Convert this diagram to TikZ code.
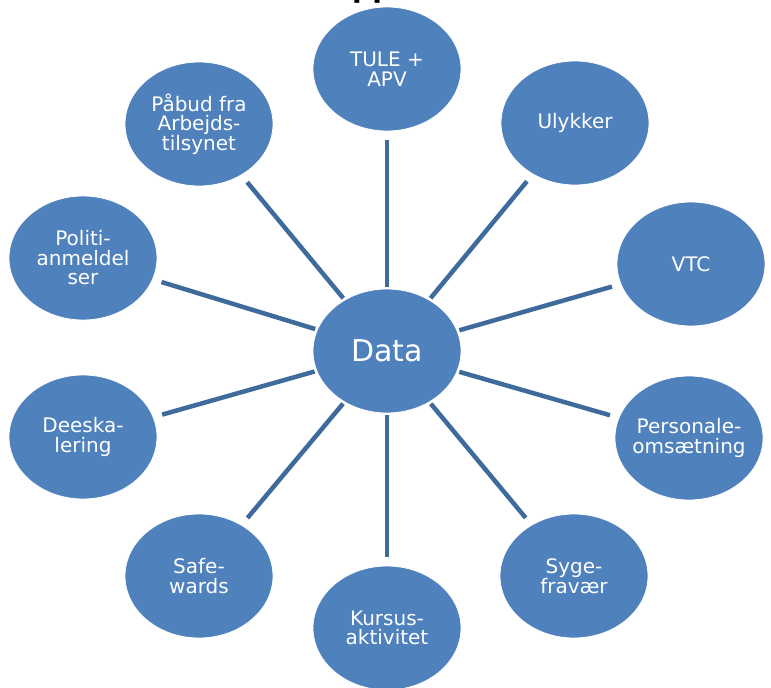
\documentclass[tikz,border=0pt]{standalone}
\usepackage{fontspec}
\setmainfont{DejaVu Sans}
\newfontfamily\boldtitlefont{DejaVu Sans Bold}
\usetikzlibrary{shapes.geometric}
\definecolor{ellfill}{HTML}{4F81BD}
\definecolor{connblue}{HTML}{3F6A9C}
\tikzset{
  ell/.style={ellipse, fill=ellfill, draw=white, line width=0.8pt, minimum width=148pt, minimum height=124pt, inner sep=0pt},
  txt/.style={text=white, align=center, inner sep=0pt, font=\fontsize{20}{19.5}\selectfont},
  conn/.style={draw=connblue, line width=4.5pt, shorten >=9pt, shorten <=2pt}
}
\begin{document}
\begin{tikzpicture}[x=1pt, y=-1pt]
\useasboundingbox (0,0) rectangle (771,688);
\begin{scope}
\clip (0,0) rectangle (771,688);
\node[anchor=base west, inner sep=0pt, font=\boldtitlefont\fontsize{28}{28}\selectfont] (title) at (352,-2) {pp};
\node[ell] (d) at (387,351) {};
\node[ell] (o1) at (387,69) {};
\node[ell] (o2) at (575,123) {};
\node[ell] (o3) at (691,264) {};
\node[ell] (o4) at (689,438) {};
\node[ell] (o5) at (574,576) {};
\node[ell] (o6) at (387,628) {};
\node[ell] (o7) at (199,576) {};
\node[ell] (o8) at (83,437) {};
\node[ell] (o9) at (83,258) {};
\node[ell] (o10) at (199,124) {};
\end{scope}
\foreach \i in {1,...,10} {\draw[conn] (d) -- (o\i);}
\node[txt, font=\fontsize{30}{30}\selectfont] (td) at (d) {Data};
\node[txt] (t1) at (o1) {TULE +\\APV};
\node[txt] (t2) at (o2) {Ulykker};
\node[txt] (t3) at (o3) {VTC};
\node[txt] (t4) at (o4) {Personale-\\omsætning};
\node[txt] (t5) at (o5) {Syge-\\fravær};
\node[txt] (t6) at (o6) {Kursus-\\aktivitet};
\node[txt] (t7) at (o7) {Safe-\\wards};
\node[txt] (t8) at (o8) {Deeska-\\lering};
\node[txt] (t9) at (o9) {Politi-\\anmeldel\\ser};
\node[txt] (t10) at (o10) {Påbud fra\\Arbejds-\\tilsynet};
\end{tikzpicture}
\end{document}
